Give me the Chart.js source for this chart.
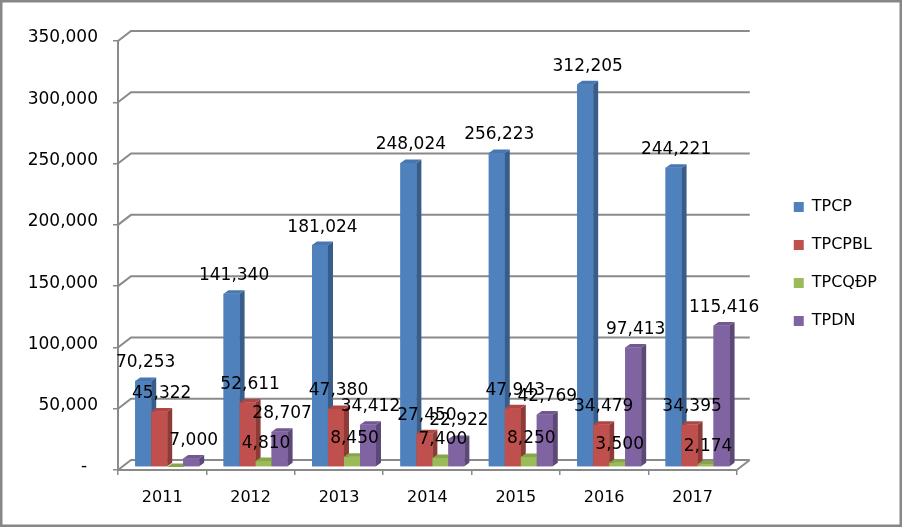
<!DOCTYPE html>
<html>
<head>
<meta charset="utf-8">
<script src="https://cdn.jsdelivr.net/npm/chart.js@4.4.0/dist/chart.umd.min.js"></script>
<style>
  html, body { margin: 0; padding: 0; background: #fff; }
  canvas { display: block; }
</style>
</head>
<body>
<canvas id="bonds" width="902" height="527"></canvas>
<script>
const years = ['2011', '2012', '2013', '2014', '2015', '2016', '2017'];
const tpcp = [70253, 141340, 181024, 248024, 256223, 312205, 244221];
const tpcpbl = [45322, 52611, 47380, 27450, 47943, 34479, 34395];
const tpcqdp = [0, 4810, 8450, 7400, 8250, 3500, 2174];
const tpdn = [7000, 28707, 34412, 22922, 42769, 97413, 115416];
const yTicks = [0, 50000, 100000, 150000, 200000, 250000, 300000, 350000];

// front, side, top colours
const shades = [
    ['#4F81BD', '#385D8A', '#4776B0'],
    ['#C0504D', '#8E3B38', '#AE4744'],
    ['#9BBB59', '#71893F', '#87A64B'],
    ['#8064A2', '#5D4978', '#715890']
];

const FONT = { family: 'DejaVu Sans', size: 16 };
const BIG = { family: 'DejaVu Sans', size: 17 };
const GRAY = '#8a8a8a';
const WALL = { dx: 13, dy: -10 };   // back wall offset
const BAR = { dx: 5, dy: -3 };      // bars sit half way in depth
const SIDE = { dx: 5, dy: -3.5 };   // bar depth

const fmt = v => v.toLocaleString('en-US');

const threeD = {
    id: 'threeD',
    beforeDraw(chart) {
        const ctx = chart.ctx;
        ctx.save();
        ctx.strokeStyle = '#878787';
        ctx.lineWidth = 2.5;
        ctx.strokeRect(1.25, 1.25, chart.width - 2.5, chart.height - 2.5);
        ctx.restore();
    },
    beforeDatasetsDraw(chart) {
        const { ctx, chartArea: { left, right, bottom }, scales: { y } } = chart;
        ctx.save();
        ctx.strokeStyle = GRAY;
        ctx.lineWidth = 2;
        ctx.beginPath();
        yTicks.forEach(v => {
            const py = y.getPixelForValue(v);
            ctx.moveTo(left, py);
            ctx.lineTo(left + WALL.dx, py + WALL.dy);
            ctx.lineTo(right + WALL.dx, py + WALL.dy);
        });
        // floor right edge
        ctx.moveTo(right, bottom);
        ctx.lineTo(right + WALL.dx, bottom + WALL.dy);
        ctx.stroke();
        ctx.restore();

        ctx.save();
        ctx.translate(BAR.dx, BAR.dy);
    },
    afterDatasetsDraw(chart) {
        const ctx = chart.ctx;
        // redraw every bar with its faces, series by series, left to right
        chart.data.datasets.forEach((ds, di) => {
            const [front, side, top] = shades[di];
            chart.getDatasetMeta(di).data.forEach(bar => {
                const { x, y, base, width } = bar.getProps(['x', 'y', 'base', 'width'], true);
                const l = x - width / 2, r = x + width / 2;
                ctx.fillStyle = front;
                ctx.fillRect(l, y, width, base - y);
                ctx.fillStyle = side;
                ctx.beginPath();
                ctx.moveTo(r, y);
                ctx.lineTo(r + SIDE.dx, y + SIDE.dy);
                ctx.lineTo(r + SIDE.dx, base + SIDE.dy);
                ctx.lineTo(r, base);
                ctx.closePath();
                ctx.fill();
                ctx.fillStyle = top;
                ctx.beginPath();
                ctx.moveTo(l, y);
                ctx.lineTo(r, y);
                ctx.lineTo(r + SIDE.dx, y + SIDE.dy);
                ctx.lineTo(l + SIDE.dx, y + SIDE.dy);
                ctx.closePath();
                ctx.fill();
            });
        });
        ctx.restore();

        // value labels
        ctx.save();
        ctx.font = `${BIG.size}px "${BIG.family}"`;
        ctx.fillStyle = '#000';
        ctx.textAlign = 'center';
        ctx.textBaseline = 'middle';
        chart.data.datasets.forEach((ds, di) => {
            chart.getDatasetMeta(di).data.forEach((bar, i) => {
                const v = ds.data[i];
                if (!v) return;
                const { x, y } = bar.getProps(['x', 'y'], true);
                ctx.fillText(fmt(v), x + BAR.dx + SIDE.dx / 2, y + BAR.dy - 18);
            });
        });
        ctx.restore();
    }
};

const mk = (label, data, i) => ({
    label,
    data,
    backgroundColor: shades[i][0],
    borderWidth: 0,
    clip: false
});

new Chart(document.getElementById('bonds'), {
    type: 'bar',
    data: {
        labels: years,
        datasets: [
            mk('TPCP', tpcp, 0),
            mk('TPCPBL', tpcpbl, 1),
            mk('TPCQĐP', tpcqdp, 2),
            mk('TPDN', tpdn, 3)
        ]
    },
    options: {
        responsive: false,
        animation: false,
        devicePixelRatio: 1,
        categoryPercentage: 0.724,
        barPercentage: 1,
        layout: { padding: { left: 0, top: 41, right: 15, bottom: 12 } },
        scales: {
            x: {
                grid: { drawOnChartArea: false, tickLength: 5, color: GRAY, lineWidth: 1.5 },
                border: { color: GRAY, width: 2 },
                ticks: { font: FONT, color: '#000', padding: 13, maxRotation: 0 },
                afterFit(s) { s.height = 45; }
            },
            y: {
                min: 0,
                max: 350000,
                afterBuildTicks(s) { s.ticks = yTicks.map(v => ({ value: v })); },
                afterFit(s) { s.width = 118; },
                grid: { drawOnChartArea: false, tickLength: 5, color: GRAY, lineWidth: 1.5 },
                border: { color: GRAY, width: 2 },
                ticks: {
                    font: BIG,
                    color: '#000',
                    padding: 15,
                    labelOffset: -3,
                    callback: v => v === 0 ? '-  ' : fmt(v)
                }
            },
            gap: {
                type: 'linear',
                position: 'right',
                grid: { display: false },
                border: { display: false },
                ticks: { display: false },
                afterFit(s) { s.width = 35; }
            }
        },
        plugins: {
            legend: {
                position: 'right',
                fullSize: false,
                title: { display: true, text: ' ', font: { size: 10 }, padding: { top: 2.5, bottom: 2.5 } },
                labels: {
                    font: FONT,
                    color: '#000',
                    boxWidth: 10,
                    boxHeight: 10,
                    padding: 22
                }
            },
            tooltip: { enabled: false }
        }
    },
    plugins: [threeD]
});
</script>
</body>
</html>
